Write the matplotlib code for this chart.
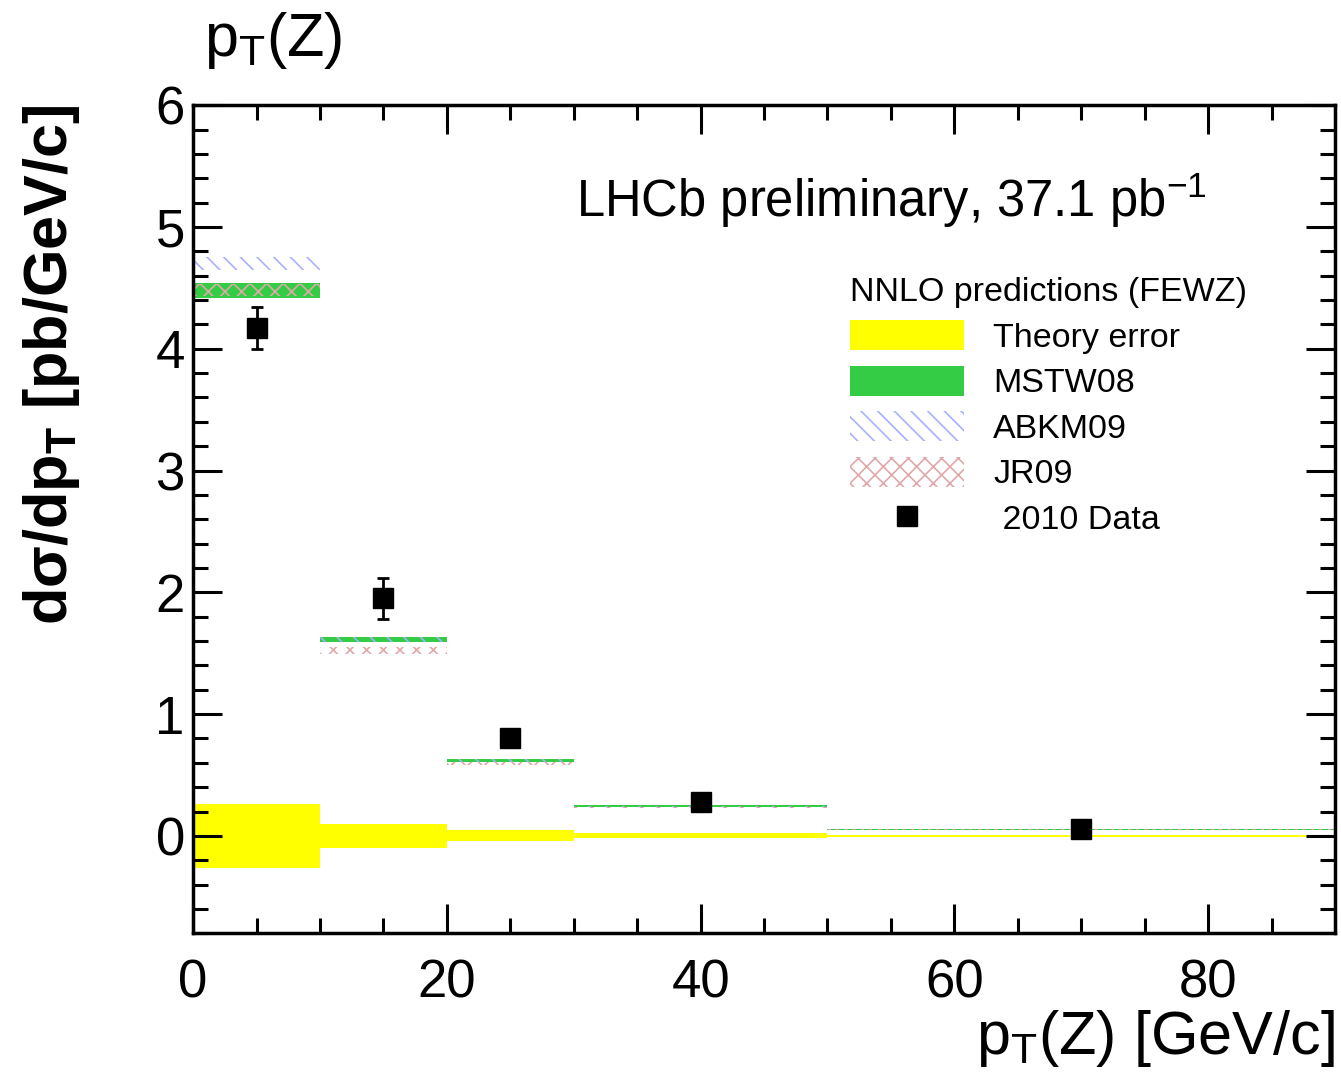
import matplotlib
matplotlib.use("Agg")
import matplotlib.pyplot as plt
from matplotlib.patches import Patch
from matplotlib.lines import Line2D
from matplotlib.ticker import MultipleLocator
import numpy as np

plt.rcParams['font.family'] = ['Liberation Sans', 'DejaVu Sans']
plt.rcParams['mathtext.fontset'] = 'custom'
plt.rcParams['mathtext.rm'] = 'Liberation Sans'
plt.rcParams['mathtext.it'] = 'Liberation Sans'
plt.rcParams['mathtext.bf'] = 'Liberation Sans:bold'
plt.rcParams['mathtext.default'] = 'regular'
plt.rcParams['hatch.linewidth'] = 1.2

# bins in pT(Z) [GeV/c]
bin_edges = [0, 10, 20, 30, 50, 90]

# theory error band (centred on zero)
theory_err = [0.26, 0.10, 0.045, 0.02, 0.01]

# NNLO predictions: centre and half-width per bin
mstw_val = [4.48, 1.615, 0.62, 0.245, 0.055]
mstw_err = [0.06, 0.022, 0.012, 0.006, 0.004]
abkm_val = [4.70, 1.61, 0.62, 0.24, 0.055]
abkm_err = [0.05, 0.02, 0.01, 0.005, 0.003]
jr_val = [4.48, 1.52, 0.595, 0.235, 0.05]
jr_err = [0.05, 0.03, 0.012, 0.006, 0.003]

# 2010 data
data_x = [5, 15, 25, 40, 70]
data_y = [4.17, 1.95, 0.80, 0.28, 0.06]
data_err = [0.17, 0.17, 0.05, 0.03, 0.01]

left = np.array(bin_edges[:-1])
width = np.diff(bin_edges)

fig = plt.figure(figsize=(13.41, 10.79), dpi=100)
ax = fig.add_axes([0.144, 0.135, 0.8515, 0.7675])

yellow = '#ffff00'
green = '#33cc44'
blue = '#a8b0ff'
pink = '#e0a8a8'
hatch_abkm = '\\\\'
hatch_jr = 'xx'

te = np.array(theory_err)
ax.bar(left, 2 * te, width, bottom=-te, align='edge', color=yellow, lw=0)

for val, err, kw in [
    (mstw_val, mstw_err, dict(color=green, lw=0)),
    (abkm_val, abkm_err, dict(facecolor='none', edgecolor=blue, hatch=hatch_abkm, lw=0)),
    (jr_val, jr_err, dict(facecolor='none', edgecolor=pink, hatch=hatch_jr, lw=0)),
]:
    v = np.array(val)
    e = np.array(err)
    ax.bar(left, 2 * e, width, bottom=v - e, align='edge', **kw)

ax.errorbar(data_x, data_y, yerr=data_err, fmt='s', color='black', ms=14,
            elinewidth=2, capsize=4, capthick=2)

ax.set_xlim(0, 90)
ax.set_ylim(-0.8, 6)
ax.xaxis.set_major_locator(MultipleLocator(20))
ax.xaxis.set_minor_locator(MultipleLocator(5))
ax.yaxis.set_major_locator(MultipleLocator(1))
ax.yaxis.set_minor_locator(MultipleLocator(0.2))
ax.tick_params(which='both', direction='in', top=True, right=True, width=2.2)
ax.tick_params(which='major', length=21, labelsize=38)
ax.tick_params(which='minor', length=11)
ax.tick_params(axis='x', which='major', pad=18)
ax.tick_params(axis='y', which='major', pad=6)
for s in ax.spines.values():
    s.set_linewidth(2.5)

ax.set_xlabel('p$_{T}$(Z) [GeV/c]', fontsize=44, loc='right', labelpad=0)
ax.set_ylabel('d\u03c3/dp$_{\\mathbf{T}}$ [pb/GeV/c]', fontsize=44,
              fontweight='bold', loc='top')
ax.yaxis.set_label_coords(-0.097, 1.0)
fig.text(0.152, 0.948, 'p$_{T}$(Z)', fontsize=44)

ax.text(0.335, 0.865, 'LHCb preliminary, 37.1 pb$^{-1}$', transform=ax.transAxes,
        fontsize=36.5)

handles = [
    Patch(color=yellow, lw=0),
    Patch(color=green, lw=0),
    Patch(facecolor='none', edgecolor=blue, hatch=hatch_abkm, lw=0),
    Patch(facecolor='none', edgecolor=pink, hatch=hatch_jr, lw=0),
    Line2D([], [], ls='none', marker='s', color='black', ms=14),
]
labels = ['Theory error', 'MSTW08', 'ABKM09', 'JR09', ' 2010 Data']
leg = ax.legend(handles, labels, title='NNLO predictions (FEWZ)', loc='upper left',
                bbox_to_anchor=(0.575, 0.792), frameon=False, fontsize=24.5,
                title_fontsize=24.5, handlelength=3.35, handleheight=0.97,
                handletextpad=0.87, labelspacing=0.35, borderpad=0,
                borderaxespad=0, alignment='left')

fig.savefig('out.png', dpi=100)
